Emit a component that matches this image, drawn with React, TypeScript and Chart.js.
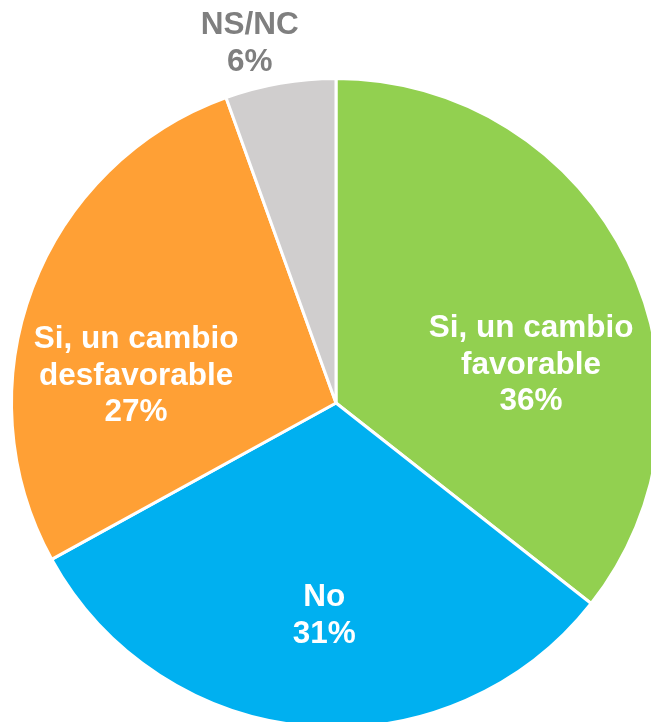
import React, { useEffect, useRef } from "react";
import { Chart, registerables } from "chart.js";

Chart.register(...registerables);

const categories = ["Si, un cambio favorable", "No", "Si, un cambio desfavorable", "NS/NC"];
const values = [35.6, 31.4, 27.5, 5.5];
const percentLabels = ["36%", "31%", "27%", "6%"];
const labelLines = [
  ["Si, un cambio", "favorable"],
  ["No"],
  ["Si, un cambio", "desfavorable"],
  ["NS/NC"],
];
const colors = ["#92D050", "#00B0F0", "#FFA035", "#D0CECE"];
const textColors = ["#FFFFFF", "#FFFFFF", "#FFFFFF", "#7F7F7F"];
// label anchor (centre x, first baseline y) relative to pie centre, in units of radius
const labelAnchors: [number, number][] = [
  [0.601, -0.204],
  [-0.036, 0.625],
  [-0.616, -0.17],
  [-0.266, -1.136],
];

const CANVAS_W = 672;
const CANVAS_H = 806;

const labelPlugin = {
  id: "sliceLabels",
  afterDatasetsDraw(chart: any) {
    const meta = chart.getDatasetMeta(0);
    const ctx = chart.ctx;
    ctx.save();
    ctx.font = 'bold 31.5px "Liberation Sans", Arial, sans-serif';
    ctx.textAlign = "center";
    ctx.textBaseline = "alphabetic";
    meta.data.forEach((arc: any, i: number) => {
      const r = arc.outerRadius;
      const [fx, fy] = labelAnchors[i];
      const x = arc.x + fx * r;
      let y = arc.y + fy * r;
      ctx.fillStyle = textColors[i];
      const lines = [...labelLines[i], percentLabels[i]];
      lines.forEach((line: string) => {
        ctx.fillText(line, x, y);
        y += 36.7;
      });
    });
    ctx.restore();
  },
};

export default function App() {
  const ref = useRef<HTMLCanvasElement | null>(null);
  useEffect(() => {
    if (!ref.current) return;
    const chart = new Chart(ref.current, {
      type: "pie",
      data: {
        labels: categories,
        datasets: [
          {
            data: values,
            backgroundColor: colors,
            borderColor: "#FFFFFF",
            borderWidth: 3,
          },
        ],
      },
      options: {
        responsive: false,
        animation: false,
        layout: { padding: { left: 10, right: 10, top: 77, bottom: 77 } },
        plugins: {
          legend: { display: false },
          tooltip: { enabled: false },
        },
      },
      plugins: [labelPlugin],
    });
    return () => chart.destroy();
  }, []);
  return (
    <div
      style={{
        position: "fixed",
        left: 0,
        top: 0,
        width: 651,
        height: 722,
        overflow: "hidden",
        background: "#FFFFFF",
      }}
    >
      <canvas ref={ref} width={CANVAS_W} height={CANVAS_H} style={{ display: "block", width: CANVAS_W, height: CANVAS_H }} />
    </div>
  );
}
